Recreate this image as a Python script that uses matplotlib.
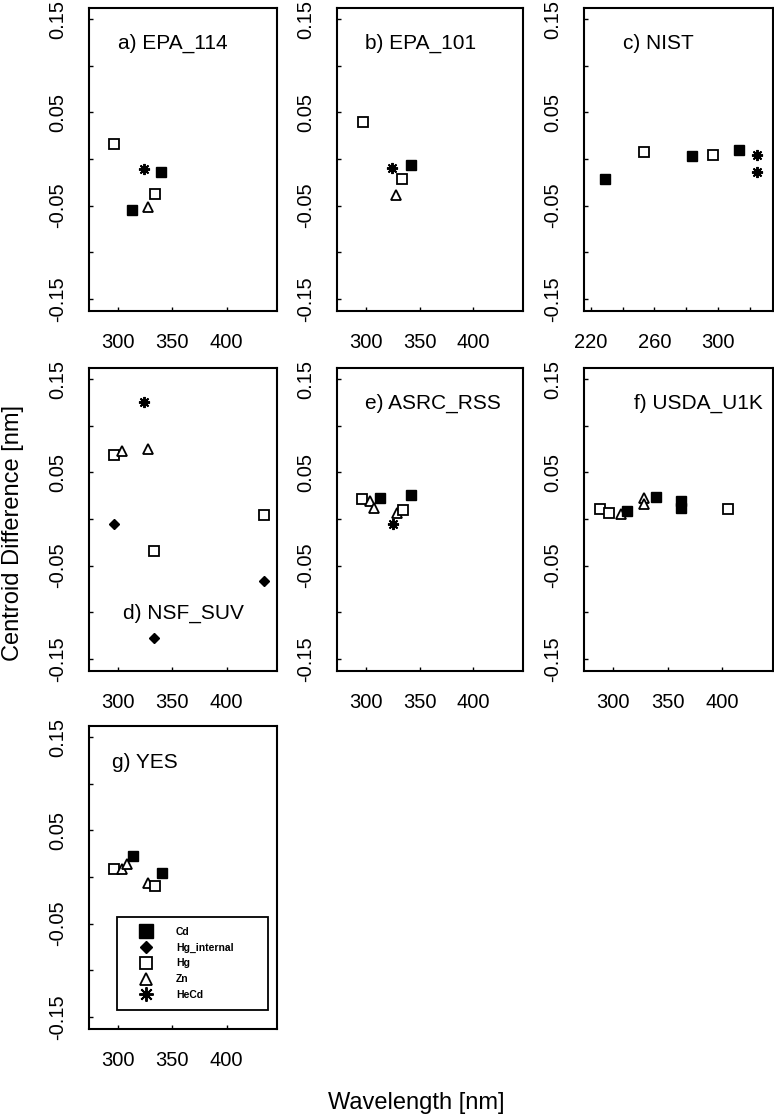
import matplotlib
matplotlib.use("Agg")
import matplotlib.pyplot as plt
from matplotlib.lines import Line2D

plt.rcParams["font.family"] = ["Liberation Sans", "DejaVu Sans"]

# ---- data (wavelength nm, centroid difference nm) ----
epa114_x = [296.3, 323.7, 339.7, 333.5, 313.0, 327.7]
epa114_y = [0.016, -0.011, -0.014, -0.037, -0.055, -0.051]
epa114_lamp = ["Hg", "HeCd", "Cd", "Hg", "Cd", "Zn"]

epa101_x = [296.9, 324.5, 341.6, 333.9, 328.0]
epa101_y = [0.040, -0.010, -0.006, -0.021, -0.039]
epa101_lamp = ["Hg", "HeCd", "Cd", "Hg", "Zn"]

nist_x = [229.0, 253.5, 283.4, 296.6, 313.1, 324.6, 324.6]
nist_y = [-0.021, 0.008, 0.003, 0.004, 0.010, 0.004, -0.014]
nist_lamp = ["Cd", "Hg", "Cd", "Hg", "Cd", "HeCd", "HeCd"]

suv_x = [323.7, 295.7, 303.7, 327.4, 295.7, 333.2, 333.2, 434.8, 434.8]
suv_y = [0.125, 0.069, 0.0725, 0.075, -0.005, -0.034, -0.1275, 0.004, -0.067]
suv_lamp = ["HeCd", "Hg", "Zn", "Zn", "Hg_internal", "Hg", "Hg_internal",
            "Hg", "Hg_internal"]

rss_x = [296.6, 303.4, 307.7, 313.5, 342.0, 328.6, 334.7, 325.5]
rss_y = [0.021, 0.019, 0.012, 0.0225, 0.026, 0.006, 0.010, -0.005]
rss_lamp = ["Hg", "Zn", "Zn", "Cd", "Cd", "Zn", "Hg", "HeCd"]

u1k_x = [288.0, 296.0, 306.7, 312.8, 328.0, 328.0, 339.4, 361.8, 361.8, 404.9]
u1k_y = [0.011, 0.006, 0.005, 0.009, 0.023, 0.016, 0.024, 0.019, 0.012, 0.011]
u1k_lamp = ["Hg", "Hg", "Zn", "Cd", "Zn", "Zn", "Cd", "Cd", "Cd", "Hg"]

yes_x = [296.3, 303.7, 307.7, 313.2, 340.1, 327.5, 333.6]
yes_y = [0.0086, 0.009, 0.014, 0.0225, 0.004, -0.006, -0.0096]
yes_lamp = ["Hg", "Zn", "Zn", "Cd", "Cd", "Zn", "Hg"]

lamps = ["Cd", "Hg_internal", "Hg", "Zn", "HeCd"]

panels = [
    ("a) EPA_114", epa114_x, epa114_y, epa114_lamp),
    ("b) EPA_101", epa101_x, epa101_y, epa101_lamp),
    ("c) NIST", nist_x, nist_y, nist_lamp),
    ("d) NSF_SUV", suv_x, suv_y, suv_lamp),
    ("e) ASRC_RSS", rss_x, rss_y, rss_lamp),
    ("f) USDA_U1K", u1k_x, u1k_y, u1k_lamp),
    ("g) YES", yes_x, yes_y, yes_lamp),
]

# ---- styles ----
style = {
    "Cd": dict(marker="s", ms=7.5, mfc="black", mec="black", mew=1.0),
    "Hg_internal": dict(marker="D", ms=5, mfc="black", mec="black", mew=1.0),
    "Hg": dict(marker="s", ms=7, mfc="white", mec="black", mew=1.3),
    "Zn": dict(marker="^", ms=7, mfc="white", mec="black", mew=1.3),
    "HeCd": dict(marker=(8, 2, 0), ms=8, mfc="black", mec="black", mew=1.4),
}

W, H = 774, 1119
fig = plt.figure(figsize=(W / 100, H / 100), dpi=100)

col_left = [89, 337, 584]
col_width = [188, 186, 189]
row_top = [8, 368, 726]
ax_h = 303
title_pos = [(0.154, 0.884), (0.15, 0.884), (0.206, 0.884),
             (0.181, 0.191), (0.15, 0.884), (0.263, 0.884), (0.122, 0.881)]

tick_fs = 14.5

for i, (name, xs, ys, lamp) in enumerate(panels):
    r, c = divmod(i, 3)
    rect = [col_left[c] / W, 1 - (row_top[r] + ax_h) / H,
            col_width[c] / W, ax_h / H]
    ax = fig.add_axes(rect)
    for x, y, l in zip(xs, ys, lamp):
        ax.plot([x], [y], ls="none", **style[l])

    ax.set_ylim(-0.163, 0.162)
    yt = [-0.15, -0.10, -0.05, 0.0, 0.05, 0.10, 0.15]
    ax.set_yticks(yt)
    ax.set_yticklabels(["-0.15", "", "-0.05", "", "0.05", "", "0.15"])

    if name.startswith("c)"):
        ax.set_xlim(215.8, 334.6)
        xt = [220, 240, 260, 280, 300, 320]
        ax.set_xticks(xt)
        ax.set_xticklabels(["220", "", "260", "", "300", ""])
    else:
        ax.set_xlim(273, 446.5)
        ax.set_xticks([300, 350, 400])
        ax.set_xticklabels(["300", "350", "400"])

    ax.tick_params(direction="in", length=3, width=1.0, labelsize=tick_fs,
                   pad=16, top=False, right=False)
    ax.tick_params(axis="y", labelrotation=90)
    for lab in ax.get_yticklabels():
        lab.set_va("center")
    for sp in ax.spines.values():
        sp.set_linewidth(1.5)

    tx, ty = title_pos[i]
    ax.text(tx, ty, name, transform=ax.transAxes, fontsize=15,
            ha="left", va="center")

    if name.startswith("g)"):
        handles = [Line2D([], [], ls="none", **style[l]) for l in lamps]
        leg = ax.legend(handles, lamps, loc="lower left",
                        bbox_to_anchor=(0.122, 0.046, 0.857, 0.304),
                        mode="expand", prop={"size": 7.5, "weight": "bold"},
                        frameon=True, fancybox=False, edgecolor="black",
                        framealpha=1, borderpad=0.95, labelspacing=0.55,
                        handlelength=3.6, handletextpad=1.1, markerscale=1.3)
        leg.get_frame().set_linewidth(1.3)

fig.text(13 / W, 1 - 533 / H, "Centroid Difference [nm]", rotation=90,
         fontsize=17, ha="center", va="center")
fig.text(416 / W, 1 - 1103 / H, "Wavelength [nm]", fontsize=17,
         ha="center", va="center")

fig.savefig("out.png", dpi=100)
